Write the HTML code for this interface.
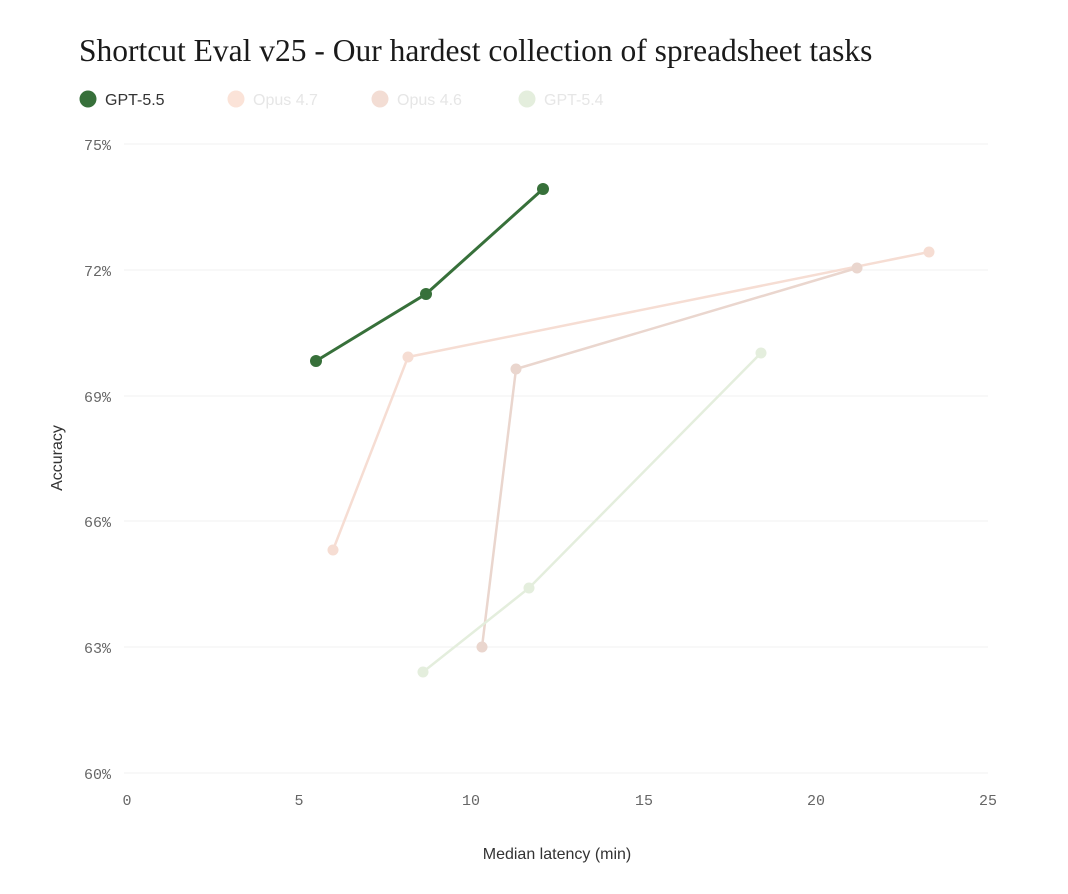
<!DOCTYPE html>
<html><head><meta charset="utf-8"><style>
html,body{margin:0;padding:0;background:#fff;width:1068px;height:894px;overflow:hidden}
svg{display:block}
</style></head><body>
<svg width="1068" height="894" xmlns="http://www.w3.org/2000/svg">
<text x="79" y="61" font-family="Liberation Serif, serif" font-size="31.5" fill="#1a1a1a">Shortcut Eval v25 - Our hardest collection of spreadsheet tasks</text>
<g font-family="Liberation Sans, sans-serif" font-size="16">
<circle cx="88" cy="99" r="8.5" fill="#37703a"/><text x="105" y="105" fill="#333">GPT-5.5</text>
<circle cx="236" cy="99" r="8.5" fill="#fbe3d8"/><text x="253" y="105" fill="#e6e6e6">Opus 4.7</text>
<circle cx="380" cy="99" r="8.5" fill="#f3ddd4"/><text x="397" y="105" fill="#e6e6e6">Opus 4.6</text>
<circle cx="527" cy="99" r="8.5" fill="#e4eedd"/><text x="544" y="105" fill="#e6e6e6">GPT-5.4</text>
</g>
<g stroke="#f0f0f0" stroke-width="1">
<line x1="124" x2="988" y1="144" y2="144"/><line x1="124" x2="988" y1="270" y2="270"/>
<line x1="124" x2="988" y1="396" y2="396"/><line x1="124" x2="988" y1="521" y2="521"/>
<line x1="124" x2="988" y1="647" y2="647"/><line x1="124" x2="988" y1="773" y2="773"/>
</g>
<g font-family="Liberation Mono, monospace" font-size="15" fill="#666" text-anchor="end">
<text x="111" y="150">75%</text><text x="111" y="276">72%</text><text x="111" y="402">69%</text>
<text x="111" y="527">66%</text><text x="111" y="653">63%</text><text x="111" y="779">60%</text>
</g>
<g font-family="Liberation Mono, monospace" font-size="15" fill="#666" text-anchor="middle">
<text x="127" y="805">0</text><text x="299" y="805">5</text><text x="471" y="805">10</text>
<text x="644" y="805">15</text><text x="816" y="805">20</text><text x="988" y="805">25</text>
</g>
<text x="557" y="859" text-anchor="middle" font-family="Liberation Sans, sans-serif" font-size="16" fill="#333">Median latency (min)</text>
<text transform="translate(62,458) rotate(-90)" text-anchor="middle" font-family="Liberation Sans, sans-serif" font-size="16" fill="#333">Accuracy</text>
<g fill="none" stroke-width="2.5">
<polyline points="333,550 408,357 929,252" stroke="#f6ddd3"/>
<polyline points="482,647 516,369 857,268" stroke="#ead6ce"/>
<polyline points="423,672 529,588 761,353" stroke="#e4eedd"/>
<polyline points="316,361 426,294 543,189" stroke="#37703a" stroke-width="3"/>
</g>
<g fill="#f6ddd3"><circle cx="333" cy="550" r="5.5"/><circle cx="408" cy="357" r="5.5"/><circle cx="929" cy="252" r="5.5"/></g>
<g fill="#ead6ce"><circle cx="482" cy="647" r="5.5"/><circle cx="516" cy="369" r="5.5"/><circle cx="857" cy="268" r="5.5"/></g>
<g fill="#e4eedd"><circle cx="423" cy="672" r="5.5"/><circle cx="529" cy="588" r="5.5"/><circle cx="761" cy="353" r="5.5"/></g>
<g fill="#37703a"><circle cx="316" cy="361" r="6"/><circle cx="426" cy="294" r="6"/><circle cx="543" cy="189" r="6"/></g>
</svg>
</body></html>
